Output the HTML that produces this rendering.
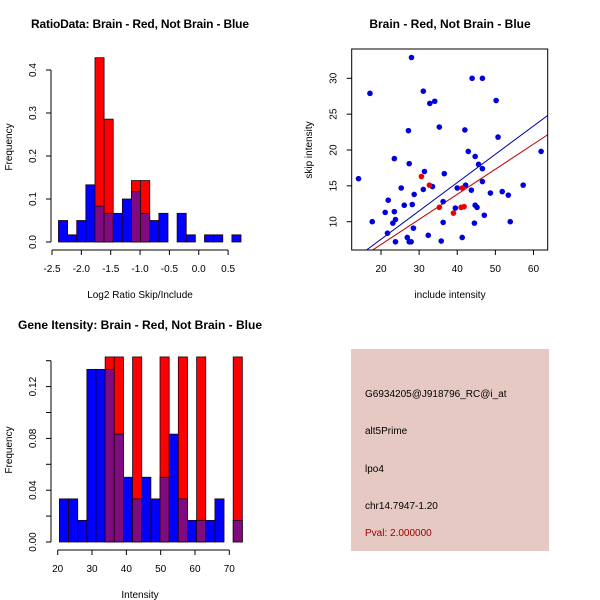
<!DOCTYPE html>
<html><head><meta charset="utf-8"><style>
html,body{margin:0;padding:0;background:#fff;}
svg{display:block;font-family:"Liberation Sans",sans-serif;}
</style></head><body>
<svg id="c" width="600" height="600" viewBox="0 0 600 600" xmlns="http://www.w3.org/2000/svg">
<rect x="0" y="0" width="600" height="600" fill="#fff"/>
<text x="140" y="28" font-size="12" font-weight="bold" text-anchor="middle" textLength="218">RatioData: Brain - Red, Not Brain - Blue</text>
<text x="140" y="298" font-size="10" text-anchor="middle">Log2 Ratio Skip/Include</text>
<text transform="translate(12,147) rotate(-90)" font-size="10" text-anchor="middle">Frequency</text>
<text x="450" y="28" font-size="12" font-weight="bold" text-anchor="middle">Brain - Red, Not Brain - Blue</text>
<text x="450" y="298" font-size="10" text-anchor="middle">include intensity</text>
<text transform="translate(312,150) rotate(-90)" font-size="10" text-anchor="middle">skip intensity</text>
<text x="140" y="329" font-size="12" font-weight="bold" text-anchor="middle">Gene Itensity: Brain - Red, Not Brain - Blue</text>
<text x="140" y="598" font-size="10" text-anchor="middle">Intensity</text>
<text transform="translate(12,450) rotate(-90)" font-size="10" text-anchor="middle">Frequency</text>
<g>
<rect x="351" y="349" width="198" height="202" fill="#e6c9c3"/>
<text x="365" y="397" font-size="10">G6934205@J918796_RC@i_at</text>
<text x="365" y="434" font-size="10">alt5Prime</text>
<text x="365" y="472" font-size="10">lpo4</text>
<text x="365" y="509" font-size="10">chr14.7947-1.20</text>
<text x="365" y="536" font-size="10" fill="#a00000">Pval: 2.000000</text>
</g>
</svg>
<script>
// ---- Ratio histogram data ----
const ratioBinStart = -2.39;
const ratioBinWidth = 0.1555;
const ratioBlue = [0.05,0.0167,0.05,0.133,0.0833,0.0667,0.0667,0.1,0.117,0.0667,0.05,0.0667,0,0.0667,0.0167,0,0.0167,0.0167,0,0.0167];
const ratioRed  = [0,0,0,0,0.4286,0.2857,0,0,0.1429,0.1429,0,0,0,0,0,0,0,0,0,0];
const ratioXTicks = [-2.5,-2.0,-1.5,-1.0,-0.5,0.0,0.5];
const ratioXLabels = ["-2.5","-2.0","-1.5","-1.0","-0.5","0.0","0.5"];
const ratioYTicks = [0,0.1,0.2,0.3,0.4];
const ratioYLabels = ["0.0","0.1","0.2","0.3","0.4"];
// ---- Intensity histogram data ----
const intBinStart = 20.5;
const intBinWidth = 2.665;
const intBlue = [0.0333,0.0333,0.0167,0.1333,0.1333,0.1333,0.0833,0.05,0.0333,0.05,0.0333,0.05,0.0833,0.0333,0.0167,0.0167,0.0167,0.0333,0,0.0167];
const intRed  = [0,0,0,0,0,0.1429,0.1429,0,0.1429,0,0,0.1429,0,0.1429,0,0.1429,0,0,0,0.1429];
const intXTicks = [20,30,40,50,60,70];
const intYTicks = [0,0.02,0.04,0.06,0.08,0.10,0.12,0.14];
const intYLabels = ["0.00","","0.04","","0.08","","0.12",""];
// ---- Scatter data ----
const blueX = [14.1,17.1,17.7,28.0,21.7,21.1,21.9,23.1,23.5,23.8,23.5,23.8,25.3,26.1,27.2,27.4,26.9,27.4,27.9,28.2,28.7,28.5,31.1,31.4,31.1,32.8,34.1,33.5,32.4,35.3,36.6,36.3,36.3,35.8,40.0,39.5,41.3,42.0,42.2,42.9,43.9,43.7,44.7,45.6,46.6,46.6,46.6,44.7,45.2,44.5,47.1,50.2,50.7,48.7,51.8,53.4,53.9,57.3,62.0];
const blueY = [16.0,27.9,10.0,32.9,8.4,11.3,13.0,9.8,11.4,10.3,18.8,7.2,14.7,12.3,22.7,18.1,7.8,7.2,7.2,12.4,13.8,9.1,28.2,17.0,14.5,26.5,26.8,14.9,8.1,23.2,16.7,12.8,9.9,7.3,14.7,11.9,7.8,22.8,15.1,19.8,30.0,14.4,19.1,18.0,30.0,17.4,15.6,12.3,12.0,9.8,10.9,26.9,21.8,14.0,14.2,13.7,10.0,15.1,19.8];
const redX = [30.6,32.7,35.3,39.0,41.3,41.0,41.8];
const redY = [16.3,15.1,12.0,11.2,14.7,12.0,12.1];
const blueFit = [0.395,-0.35]; // slope, intercept
const redFit = [0.35,-0.18];
const scXTicks = [20,30,40,50,60];
const scYTicks = [10,15,20,25,30];

const svg = document.getElementById('c');
const NS = 'http://www.w3.org/2000/svg';
function mk(tag, attrs, parent){const e=document.createElementNS(NS,tag);for(const k in attrs)e.setAttribute(k,attrs[k]);(parent||svg).appendChild(e);return e;}

function hist(g, blue, red, start, w, sx, sy, prefix){
  for(let i=0;i<blue.length;i++){
    const x0=sx(start+i*w), x1=sx(start+(i+1)*w);
    const b=blue[i], r=red[i];
    const top=Math.max(b,r), ov=Math.min(b,r);
    if(top<=0) continue;
    const bar = mk('rect',{x:x0,y:sy(top),width:x1-x0,height:sy(0)-sy(top),fill:(r>b?'#ff0000':'#0000ff'),stroke:'#200010','stroke-width':0.8},g);
    
    
    if(ov>0){
      const o = mk('rect',{x:x0,y:sy(ov),width:x1-x0,height:sy(0)-sy(ov),fill:'#800a80',stroke:'#200010','stroke-width':0.8},g);
      
      
    }
  }
}
function xAxis(g, ticks, labels, sx, y){
  mk('line',{x1:sx(ticks[0]),x2:sx(ticks[ticks.length-1]),y1:y,y2:y,stroke:'#000'},g);
  ticks.forEach((t,i)=>{
    mk('line',{x1:sx(t),x2:sx(t),y1:y,y2:y+5,stroke:'#000'},g);
    const tx=mk('text',{x:sx(t),y:y+22,'font-size':10,'text-anchor':'middle'},g);
    tx.textContent=labels[i];
  });
}
function yAxis(g, ticks, labels, sy, x){
  mk('line',{x1:x,x2:x,y1:sy(ticks[0]),y2:sy(ticks[ticks.length-1]),stroke:'#000'},g);
  ticks.forEach((t,i)=>{
    mk('line',{x1:x-5,x2:x,y1:sy(t),y2:sy(t),stroke:'#000'},g);
    if(labels[i]){
      const tx=mk('text',{transform:'translate('+(x-15)+','+sy(t)+') rotate(-90)','font-size':10,'text-anchor':'middle'},g);
      tx.textContent=labels[i];
    }
  });
}

// Ratio histogram
{
  const g=mk('g',{});
  
  
  const sx=v=>52+(v+2.5)*58.7;
  const sy=v=>242-v*430;
  hist(g, ratioBlue, ratioRed, ratioBinStart, ratioBinWidth, sx, sy, 'ratio');
  const ax=mk('g',{},g);  
  xAxis(ax, ratioXTicks, ratioXLabels, sx, 250);
  const ay=mk('g',{},g);  
  yAxis(ay, ratioYTicks, ratioYLabels, sy, 51);
}
// Intensity histogram
{
  const g=mk('g',{});
  
  
  const sx=v=>57.7+(v-20)*3.432;
  const sy=v=>542-v*1295;
  hist(g, intBlue, intRed, intBinStart, intBinWidth, sx, sy, 'intensity');
  const ax=mk('g',{},g);  
  xAxis(ax, intXTicks, intXTicks.map(String), sx, 550);
  const ay=mk('g',{},g);  
  yAxis(ay, intYTicks, intYLabels, sy, 51);
}
// Scatter
{
  const g=mk('g',{});
  
  
  const sx=v=>381+(v-20)*3.812;
  const sy=v=>221.7-(v-10)*7.17;
  const L=351.7,R=547.7,T=49,B=250;
  const cp=mk('clipPath',{id:'scclip'},g); mk('rect',{x:L,y:T,width:R-L,height:B-T},cp);
  const fits=[[blueFit,'#0000a0','blue-fit-line'],[redFit,'#c00000','red-fit-line']];
  fits.forEach(f=>{
    const xa=0,xb=80;
    const ln=mk('line',{x1:sx(xa),y1:sy(f[0][0]*xa+f[0][1]),x2:sx(xb),y2:sy(f[0][0]*xb+f[0][1]),stroke:f[1],'stroke-width':1,'clip-path':'url(#scclip)'},g);
    
    
  });
  blueX.forEach((x,i)=>{
    const c=mk('circle',{cx:sx(x),cy:sy(blueY[i]),r:2.8,fill:'#0000dd'},g);
    
    
  });
  redX.forEach((x,i)=>{
    const c=mk('circle',{cx:sx(x),cy:sy(redY[i]),r:2.8,fill:'#ee0000'},g);
    
    
  });
  const box=mk('rect',{x:L,y:T,width:R-L,height:B-T,fill:'none',stroke:'#000'},g);
  
  
  const ax=mk('g',{},g);  
  scXTicks.forEach(t=>{
    mk('line',{x1:sx(t),x2:sx(t),y1:B,y2:B+5,stroke:'#000'},ax);
    const tx=mk('text',{x:sx(t),y:B+22,'font-size':10,'text-anchor':'middle'},ax); tx.textContent=String(t);
  });
  const ay=mk('g',{},g);  
  scYTicks.forEach(t=>{
    mk('line',{x1:L-5,x2:L,y1:sy(t),y2:sy(t),stroke:'#000'},ay);
    const tx=mk('text',{transform:'translate('+(L-15)+','+sy(t)+') rotate(-90)','font-size':10,'text-anchor':'middle'},ay); tx.textContent=String(t);
  });
}
</script>
</body></html>
